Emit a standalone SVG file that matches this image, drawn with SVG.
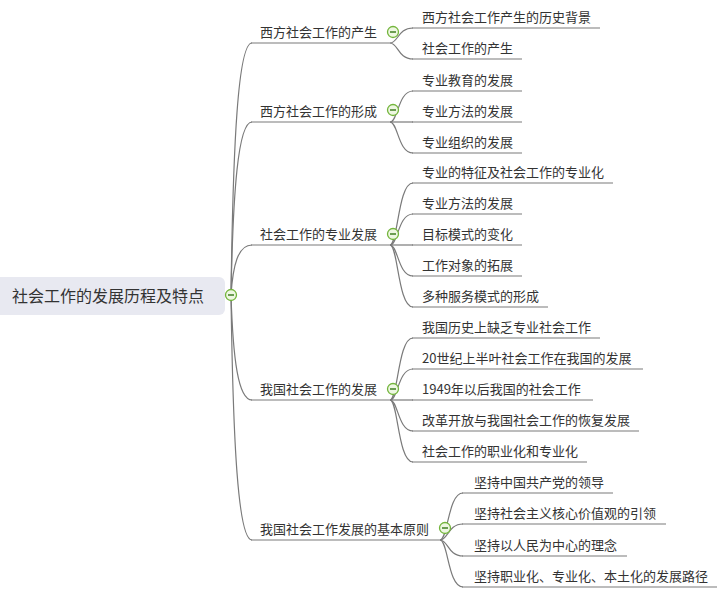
<svg xmlns="http://www.w3.org/2000/svg" width="726" height="593" viewBox="0 0 726 593">
<style>
text{font-family:"Microsoft YaHei","Noto Sans CJK SC","Noto Sans",sans-serif;fill:#333;}
.t13{font-size:13px;}
.root{font-size:16px;}
.ln{fill:none;stroke:#7a7a7a;stroke-width:1.2;}
.tg circle{fill:#eef7e2;stroke:#73b53c;stroke-width:1.3;}
.tg line{stroke:#3f7f22;stroke-width:1.5;}
</style>
<rect width="726" height="593" fill="#ffffff"/>
<g id="connectors">
<path class="ln" d="M231,295 C233,144 238,43 252,43"/>
<path class="ln" d="M231,295 C233,192 238,122 252,122"/>
<path class="ln" d="M231,295 C233,265 238,245 252,245"/>
<path class="ln" d="M231,295 C233,358 238,400 252,400"/>
<path class="ln" d="M231,295 C233,442 238,540 252,540"/>
<path class="ln" d="M390,43 C398,43 398,28 413,28"/>
<path class="ln" d="M390,43 C398,43 398,59 413,59"/>
<path class="ln" d="M390,122 C398,122 398,91 413,91"/>
<path class="ln" d="M390,122 L413,122"/>
<path class="ln" d="M390,122 C398,122 398,153 413,153"/>
<path class="ln" d="M390,245 C398,245 398,183 413,183"/>
<path class="ln" d="M390,245 C398,245 398,214 413,214"/>
<path class="ln" d="M390,245 L413,245"/>
<path class="ln" d="M390,245 C398,245 398,276 413,276"/>
<path class="ln" d="M390,245 C398,245 398,307 413,307"/>
<path class="ln" d="M390,400 C398,400 398,338 413,338"/>
<path class="ln" d="M390,400 C398,400 398,369 413,369"/>
<path class="ln" d="M390,400 L413,400"/>
<path class="ln" d="M390,400 C398,400 398,431 413,431"/>
<path class="ln" d="M390,400 C398,400 398,462 413,462"/>
<path class="ln" d="M440,540 C448,540 448,493 463,493"/>
<path class="ln" d="M440,540 C448,540 448,524 463,524"/>
<path class="ln" d="M440,540 C448,540 448,556 463,556"/>
<path class="ln" d="M440,540 C448,540 448,587 463,587"/>
</g>
<g id="root">
<rect x="-6" y="277" width="231" height="38" rx="6" fill="#e8e9f1"/>
<text class="root" x="12" y="302">社会工作的发展历程及特点</text>
<g class="tg"><circle cx="231" cy="295" r="5.5"/><line x1="228" y1="295" x2="234" y2="295"/></g>
</g>
<g id="m1">
<line class="ln" x1="251" y1="43" x2="390" y2="43"/>
<text class="t13" x="260" y="37">西方社会工作的产生</text>
<g class="tg"><circle cx="393" cy="32" r="5.5"/><line x1="390" y1="32" x2="396" y2="32"/></g>
</g>
<g id="m1c1"><line class="ln" x1="412" y1="28" x2="600" y2="28"/><text class="t13" x="422" y="22">西方社会工作产生的历史背景</text></g>
<g id="m1c2"><line class="ln" x1="412" y1="59" x2="522" y2="59"/><text class="t13" x="422" y="53">社会工作的产生</text></g>
<g id="m2">
<line class="ln" x1="251" y1="122" x2="390" y2="122"/>
<text class="t13" x="260" y="116">西方社会工作的形成</text>
<g class="tg"><circle cx="393" cy="110" r="5.5"/><line x1="390" y1="110" x2="396" y2="110"/></g>
</g>
<g id="m2c1"><line class="ln" x1="412" y1="91" x2="522" y2="91"/><text class="t13" x="422" y="85">专业教育的发展</text></g>
<g id="m2c2"><line class="ln" x1="412" y1="122" x2="522" y2="122"/><text class="t13" x="422" y="116">专业方法的发展</text></g>
<g id="m2c3"><line class="ln" x1="412" y1="153" x2="522" y2="153"/><text class="t13" x="422" y="147">专业组织的发展</text></g>
<g id="m3">
<line class="ln" x1="251" y1="245" x2="390" y2="245"/>
<text class="t13" x="260" y="239">社会工作的专业发展</text>
<g class="tg"><circle cx="393" cy="234" r="5.5"/><line x1="390" y1="234" x2="396" y2="234"/></g>
</g>
<g id="m3c1"><line class="ln" x1="412" y1="183" x2="613" y2="183"/><text class="t13" x="422" y="177">专业的特征及社会工作的专业化</text></g>
<g id="m3c2"><line class="ln" x1="412" y1="214" x2="522" y2="214"/><text class="t13" x="422" y="208">专业方法的发展</text></g>
<g id="m3c3"><line class="ln" x1="412" y1="245" x2="522" y2="245"/><text class="t13" x="422" y="239">目标模式的变化</text></g>
<g id="m3c4"><line class="ln" x1="412" y1="276" x2="522" y2="276"/><text class="t13" x="422" y="270">工作对象的拓展</text></g>
<g id="m3c5"><line class="ln" x1="412" y1="307" x2="548" y2="307"/><text class="t13" x="422" y="301">多种服务模式的形成</text></g>
<g id="m4">
<line class="ln" x1="251" y1="400" x2="390" y2="400"/>
<text class="t13" x="260" y="394">我国社会工作的发展</text>
<g class="tg"><circle cx="393" cy="389" r="5.5"/><line x1="390" y1="389" x2="396" y2="389"/></g>
</g>
<g id="m4c1"><line class="ln" x1="412" y1="338" x2="600" y2="338"/><text class="t13" x="422" y="332">我国历史上缺乏专业社会工作</text></g>
<g id="m4c2"><line class="ln" x1="412" y1="369" x2="643" y2="369"/><text class="t13" x="422" y="363">20世纪上半叶社会工作在我国的发展</text></g>
<g id="m4c3"><line class="ln" x1="412" y1="400" x2="593" y2="400"/><text class="t13" x="422" y="394">1949年以后我国的社会工作</text></g>
<g id="m4c4"><line class="ln" x1="412" y1="431" x2="639" y2="431"/><text class="t13" x="422" y="425">改革开放与我国社会工作的恢复发展</text></g>
<g id="m4c5"><line class="ln" x1="412" y1="462" x2="587" y2="462"/><text class="t13" x="422" y="456">社会工作的职业化和专业化</text></g>
<g id="m5">
<line class="ln" x1="251" y1="540" x2="440" y2="540"/>
<text class="t13" x="260" y="534">我国社会工作发展的基本原则</text>
<g class="tg"><circle cx="445" cy="528" r="5.5"/><line x1="442" y1="528" x2="448" y2="528"/></g>
</g>
<g id="m5c1"><line class="ln" x1="462" y1="493" x2="613" y2="493"/><text class="t13" x="474" y="487">坚持中国共产党的领导</text></g>
<g id="m5c2"><line class="ln" x1="462" y1="524" x2="666" y2="524"/><text class="t13" x="474" y="518">坚持社会主义核心价值观的引领</text></g>
<g id="m5c3"><line class="ln" x1="462" y1="556" x2="627" y2="556"/><text class="t13" x="474" y="550">坚持以人民为中心的理念</text></g>
<g id="m5c4"><line class="ln" x1="462" y1="587" x2="717" y2="587"/><text class="t13" x="474" y="581">坚持职业化、专业化、本土化的发展路径</text></g>
</svg>
